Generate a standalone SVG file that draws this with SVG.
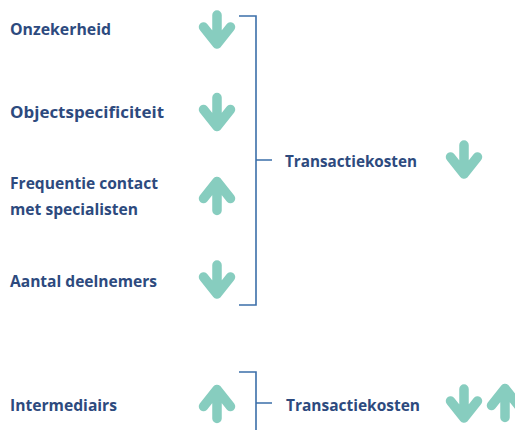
<svg xmlns="http://www.w3.org/2000/svg" xmlns:xlink="http://www.w3.org/1999/xlink" width="515" height="430" viewBox="0 0 515 430">
<style>
.lbl{font-family:"Open Sans","Liberation Sans",sans-serif;font-weight:700;font-size:16px;fill:#2d4a7e;}
.br{fill:none;stroke:#3b6fa9;stroke-width:1.6;}
.arr{fill:none;stroke:#87cdbf;stroke-width:9.5;stroke-linecap:round;stroke-linejoin:round;}
</style>
<defs>
<g id="down"><path class="arr" d="M0,-14.5 V14.5 M-13.5,-2.5 L0,14.5 L13.5,-2.5"/></g>
<g id="up"><path class="arr" d="M0,14.5 V-14.5 M-13.5,2.5 L0,-14.5 L13.5,2.5"/></g>
</defs>
<rect width="515" height="430" fill="#ffffff"/>
<g id="connectors">
<path class="br" d="M239,16 H256 V305 H239 M256,160 H272"/>
<path class="br" d="M239,372 H256 V432 M256,403 H272"/>
</g>
<g id="onzekerheid">
<text class="lbl" x="10" y="35" textLength="101" lengthAdjust="spacingAndGlyphs">Onzekerheid</text>
<use xlink:href="#down" href="#down" x="217" y="29.5"/>
</g>
<g id="objectspecificiteit">
<text class="lbl" x="10" y="118" textLength="154" lengthAdjust="spacingAndGlyphs">Objectspecificiteit</text>
<use xlink:href="#down" href="#down" x="217" y="112"/>
</g>
<g id="frequentie">
<text class="lbl" x="10" y="189" textLength="148" lengthAdjust="spacingAndGlyphs">Frequentie contact</text>
<text class="lbl" x="10" y="215" textLength="128" lengthAdjust="spacingAndGlyphs">met specialisten</text>
<use xlink:href="#up" href="#up" x="217" y="196"/>
</g>
<g id="aantal">
<text class="lbl" x="10" y="287" textLength="147" lengthAdjust="spacingAndGlyphs">Aantal deelnemers</text>
<use xlink:href="#down" href="#down" x="217" y="279.5"/>
</g>
<g id="transactiekosten1">
<text class="lbl" x="285" y="167" textLength="132" lengthAdjust="spacingAndGlyphs">Transactiekosten</text>
<use xlink:href="#down" href="#down" x="464" y="159.5"/>
</g>
<g id="intermediairs">
<text class="lbl" x="10" y="411" textLength="107" lengthAdjust="spacingAndGlyphs">Intermediairs</text>
<use xlink:href="#up" href="#up" x="217" y="404"/>
</g>
<g id="transactiekosten2">
<text class="lbl" x="286" y="411" textLength="134" lengthAdjust="spacingAndGlyphs">Transactiekosten</text>
<use xlink:href="#down" href="#down" x="464" y="403.5"/>
<use xlink:href="#up" href="#up" x="505" y="403"/>
</g>
</svg>
